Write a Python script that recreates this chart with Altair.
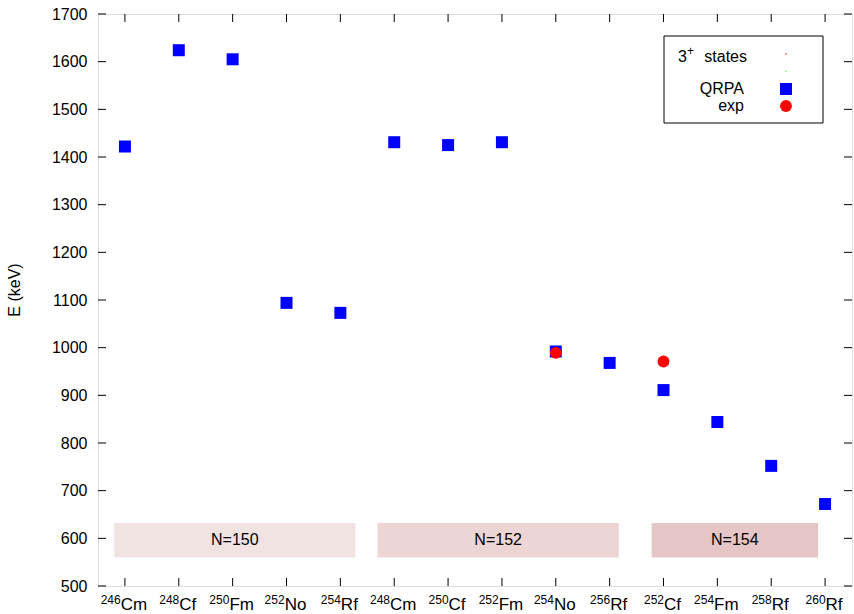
import altair as alt
import pandas as pd

# Nuclei along the x axis (mass number, element) and QRPA energies of the 3+ states (keV)
mass = ["246", "248", "250", "252", "254", "248", "250", "252", "254", "256", "252", "254", "258", "260"]
element = ["Cm", "Cf", "Fm", "No", "Rf", "Cm", "Cf", "Fm", "No", "Rf", "Cf", "Fm", "Rf", "Rf"]
qrpa_kev = [1422, 1624, 1605, 1094, 1073, 1431, 1425, 1431, 992, 968, 911, 844, 752, 672]

# Experimental values (position on the x axis, energy in keV)
exp_pos = [9, 11]
exp_kev = [989, 971]

# Isotone groups shown as shaded bands
band_labels = ["N=150", "N=152", "N=154"]
band_start = [0.8, 5.69, 10.78]
band_end = [5.28, 10.17, 13.87]
band_colors = ["#f2e3e3", "#edd5d5", "#e5c5c5"]
band_low, band_high, band_text_y = 560, 632, 596

y_ticks = list(range(500, 1701, 100))

W, H = 754, 572
FONT = "Liberation Sans"
X_DOMAIN = [0.5, 14.5]
Y_DOMAIN = [500, 1700]
px_per_x = W / (X_DOMAIN[1] - X_DOMAIN[0])
px_per_y = H / (Y_DOMAIN[1] - Y_DOMAIN[0])


def px_x(px):
    """Pixel offset from the left edge of the plot -> x data value."""
    return X_DOMAIN[0] + px / px_per_x


def px_y(py):
    """Pixel offset from the top edge of the plot -> y data value."""
    return Y_DOMAIN[1] - py / px_per_y


positions = list(range(1, len(mass) + 1))

# Approximate Helvetica advance widths, used to centre the composite tick labels
char_w = {"C": 0.722, "m": 0.833, "f": 0.278, "F": 0.611, "N": 0.722, "o": 0.556, "R": 0.722}
SUP_SIZE, EL_SIZE = 12, 17
joint = []
for m, e in zip(mass, element):
    w_sup = len(m) * 0.556 * SUP_SIZE
    w_el = sum(char_w[c] for c in e) * EL_SIZE
    joint.append((-1 - (w_el - w_sup) / 2) / px_per_x)

nuclei = pd.DataFrame({
    "pos": positions,
    "mass": mass,
    "element": element,
    "E": qrpa_kev,
    "label_x": [p + j for p, j in zip(positions, joint)],
    "sup_y": [px_y(H + 18)] * len(mass),
    "el_y": [px_y(H + 24)] * len(mass),
    "tb0": [px_y(H - 8)] * len(mass),
    "tb1": [Y_DOMAIN[0]] * len(mass),
    "tt0": [Y_DOMAIN[1]] * len(mass),
    "tt1": [px_y(8)] * len(mass),
})
exp_df = pd.DataFrame({"pos": exp_pos, "E": exp_kev})
bands = pd.DataFrame({
    "label": band_labels,
    "x0": band_start,
    "x1": band_end,
    "xc": [(a + b) / 2 for a, b in zip(band_start, band_end)],
    "color": band_colors,
    "y0": [band_low] * 3,
    "y1": [band_high] * 3,
    "ty": [band_text_y] * 3,
})
yt = pd.DataFrame({
    "v": y_ticks,
    "l0": [X_DOMAIN[0]] * len(y_ticks),
    "l1": [px_x(8)] * len(y_ticks),
    "r0": [px_x(W - 8)] * len(y_ticks),
    "r1": [X_DOMAIN[1]] * len(y_ticks),
})

xs = alt.Scale(domain=X_DOMAIN, nice=False, zero=False)
ys = alt.Scale(domain=Y_DOMAIN, nice=False, zero=False)


def X(field):
    return alt.X(field, type="quantitative", scale=xs, axis=None)


def Y(field):
    return alt.Y(field, type="quantitative", scale=ys)


band_rects = alt.Chart(bands).mark_rect().encode(
    x=X("x0"), x2="x1", y=Y("y0"), y2="y1",
    color=alt.Color("color:N", scale=None),
)
band_text = alt.Chart(bands).mark_text(fontSize=16, font=FONT, color="#000").encode(
    x=X("xc"), y=Y("ty"), text="label:N",
)

qrpa = alt.Chart(nuclei).mark_square(size=144, color="#0000ff", opacity=1).encode(
    x=X("pos"),
    y=alt.Y("E:Q", scale=ys,
            axis=alt.Axis(title=None, values=y_ticks, format="d", ticks=False, tickSize=0,
                          domain=False, grid=False, labelFontSize=16, labelFont=FONT,
                          labelColor="#000", labelPadding=11)),
)
exp = alt.Chart(exp_df).mark_circle(size=140, color="#ff0000", opacity=1).encode(
    x=X("pos"), y=Y("E"),
)

# Inward tick marks on all four sides
rule = dict(color="#000", strokeWidth=1)
y_left = alt.Chart(yt).mark_rule(**rule).encode(y=Y("v"), x=X("l0"), x2="l1")
y_right = alt.Chart(yt).mark_rule(**rule).encode(y=Y("v"), x=X("r0"), x2="r1")
x_bottom = alt.Chart(nuclei).mark_rule(**rule).encode(x=X("pos"), y=Y("tb0"), y2="tb1")
x_top = alt.Chart(nuclei).mark_rule(**rule).encode(x=X("pos"), y=Y("tt0"), y2="tt1")

# x tick labels: superscript mass number followed by element symbol
sup_text = alt.Chart(nuclei).mark_text(
    fontSize=SUP_SIZE, font=FONT, align="right", baseline="alphabetic", color="#000"
).encode(x=X("label_x"), y=Y("sup_y"), text="mass:N")
el_text = alt.Chart(nuclei).mark_text(
    fontSize=EL_SIZE, font=FONT, align="left", baseline="alphabetic", color="#000"
).encode(x=X("label_x"), y=Y("el_y"), text="element:N")

# Axis title, drawn as rotated text to the left of the tick labels
title_df = pd.DataFrame({"x": [px_x(-83)], "y": [px_y(H / 2 - 10)], "t": ["E (keV)"]})
y_title = alt.Chart(title_df).mark_text(
    fontSize=16, font=FONT, angle=270, align="center", baseline="middle", color="#000"
).encode(x=X("x"), y=Y("y"), text="t:N")

# Key: box, labels (right-aligned) and symbols
key_box_df = pd.DataFrame({"x0": [px_x(566)], "x1": [px_x(725)], "y0": [px_y(22)], "y1": [px_y(109)]})
key_box = alt.Chart(key_box_df).mark_rect(fill="white", stroke="#000", strokeWidth=1).encode(
    x=X("x0"), x2="x1", y=Y("y0"), y2="y1")

key_text_df = pd.DataFrame({
    "x": [px_x(589), px_x(649), px_x(646), px_x(646)],
    "y": [px_y(43), px_y(43), px_y(75), px_y(92)],
    "t": ["3", "states", "QRPA", "exp"],
})
key_text = alt.Chart(key_text_df).mark_text(
    fontSize=16, font=FONT, align="right", baseline="middle", color="#000"
).encode(x=X("x"), y=Y("y"), text="t:N")
key_sup_df = pd.DataFrame({"x": [px_x(589)], "y": [px_y(37)], "t": ["+"]})
key_sup = alt.Chart(key_sup_df).mark_text(
    fontSize=12, font=FONT, align="left", baseline="middle", color="#000"
).encode(x=X("x"), y=Y("y"), text="t:N")

key_dots_df = pd.DataFrame({"x": [px_x(688)] * 2, "y": [px_y(40), px_y(57)], "c": ["#ff6060", "#80ff80"]})
key_dots = alt.Chart(key_dots_df).mark_square(size=3, opacity=1).encode(
    x=X("x"), y=Y("y"), color=alt.Color("c:N", scale=None))
key_sq_df = pd.DataFrame({"x": [px_x(688)], "y": [px_y(75)]})
key_sq = alt.Chart(key_sq_df).mark_square(size=144, color="#0000ff", opacity=1).encode(x=X("x"), y=Y("y"))
key_circ_df = pd.DataFrame({"x": [px_x(688)], "y": [px_y(92)]})
key_circ = alt.Chart(key_circ_df).mark_circle(size=140, color="#ff0000", opacity=1).encode(x=X("x"), y=Y("y"))

chart = alt.layer(
    band_rects, band_text, qrpa, exp,
    y_left, y_right, x_bottom, x_top,
    sup_text, el_text, y_title,
    key_box, key_text, key_sup, key_dots, key_sq, key_circ,
).properties(
    width=W, height=H,
    autosize=alt.AutoSizeParams(type="none"),
    padding={"left": 98, "top": 14, "right": 2, "bottom": 28},
    background="white",
).configure_view(
    stroke="#000", strokeWidth=1
).configure(font=FONT)

chart.save("out.html", embed_options={"renderer": "svg", "actions": False})
